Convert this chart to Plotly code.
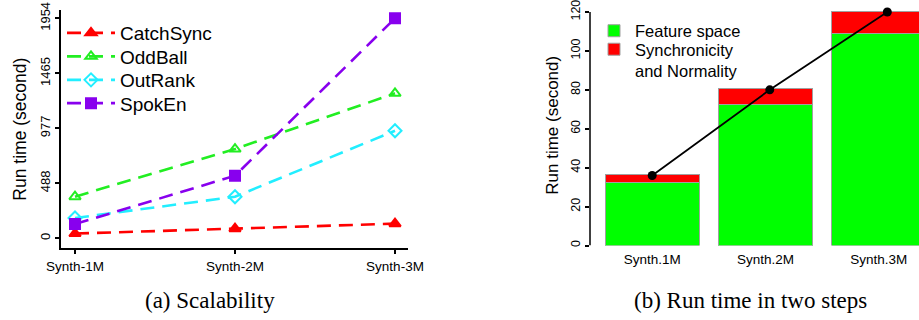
import plotly.graph_objects as go

# ---- data (a) scalability ----
datasets_a = ["Synth-1M", "Synth-2M", "Synth-3M"]
catchsync = [42, 85, 130]
oddball = [370, 793, 1288]
outrank = [180, 369, 955]
spoken = [126, 556, 1954]
yticks_a = [0, 488, 977, 1465, 1954]

# ---- data (b) run time in two steps ----
datasets_b = ["Synth.1M", "Synth.2M", "Synth.3M"]
feature_space = [32.5, 72.6, 108.9]
sync_normality = [4.1, 8.2, 11.6]
total_points = [36, 80, 120]
yticks_b = [0, 20, 40, 60, 80, 100, 120]

W, H = 919, 320
def px(x):
    return x / W
def py(y):
    return 1 - y / H

fig = go.Figure()

series = [
    ("CatchSync", catchsync, "#FF0000", "triangle-up", "legend"),
    ("OddBall", oddball, "#22EE22", "triangle-up-open", "legend3"),
    ("OutRank", outrank, "#22EEFF", "diamond-open", "legend4"),
    ("SpokEn", spoken, "#8800EE", "square", "legend5"),
]
for name, vals, col, sym, lg in series:
    fig.add_trace(go.Scatter(
        x=list(range(len(datasets_a))), y=vals, name=name, mode="lines+markers",
        line=dict(color=col, width=2.6, dash="14px,8px"),
        marker=dict(symbol=sym, size=10, color=col, line=dict(color=col, width=2)),
        xaxis="x", yaxis="y", legend=lg, cliponaxis=False,
    ))

# bars (b)
bar_x = [0.7 + 1.2 * i for i in range(len(datasets_b))]
fig.add_trace(go.Bar(
    x=bar_x, y=feature_space, name="Feature space", width=1,
    marker=dict(color="#00FF00", line=dict(color="#A0A0A0", width=1)),
    xaxis="x2", yaxis="y2", legend="legend2",
))
fig.add_trace(go.Bar(
    x=bar_x, y=sync_normality, name="Synchronicity<br>and Normality", width=1,
    marker=dict(color="#FF0000", line=dict(color="#A0A0A0", width=1)),
    xaxis="x2", yaxis="y2", legend="legend6",
))
fig.add_trace(go.Scatter(
    x=[1, 2, 3], y=total_points, mode="lines+markers", showlegend=False,
    line=dict(color="black", width=1.8),
    marker=dict(color="black", size=9),
    xaxis="x3", yaxis="y2", cliponaxis=False,
))

# left plot geometry
ax_left, ax_right = 60.7, 408
ay_top, ay_bot = 10, 248.3
y0_px, ymax_px = 238.3, 18.3
upp = 1954 / (y0_px - ymax_px)
yr_a = [-(ay_bot - y0_px) * upp, 1954 + (ymax_px - ay_top) * upp]
c0, c2 = 75, 395
ppc = (c2 - c0) / 2
xr_a = [-(c0 - ax_left) / ppc, 2 + (ax_right - c2) / ppc]

# right plot geometry
bx_left, bx_right = 590, 919
pu = 94.4
x_zero = 652.2 - 0.7 * pu
xr_b = [(bx_left - x_zero) / pu, (bx_right - x_zero) / pu]
by_bot = 245.5
ppu_b = (245.5 - 12) / 120
by_top = 5
yr_b = [0, (by_bot - by_top) / ppu_b]
lp1, lp3 = 652.2, 887.3
ppl = (lp3 - lp1) / 2
xr_l = [1 - (lp1 - bx_left) / ppl, 3 + (bx_right - lp3) / ppl]

tickfont = dict(family="Liberation Sans, Arial", size=13.5, color="black")

def lg_left(yc):
    return dict(x=px(62), y=py(yc), xanchor="left", yanchor="middle",
                font=dict(size=19, family="Liberation Sans, Arial", color="black"),
                itemwidth=48, bgcolor="rgba(0,0,0,0)", borderwidth=0)

def lg_right(yc):
    return dict(x=px(593), y=py(yc), xanchor="left", yanchor="middle",
                font=dict(size=16.5, family="Liberation Sans, Arial", color="black"),
                itemwidth=32, valign="top", bgcolor="rgba(0,0,0,0)", borderwidth=0)

fig.update_layout(
    template="none",
    width=W, height=H, margin=dict(l=0, r=0, t=0, b=0, pad=0),
    paper_bgcolor="white", plot_bgcolor="white",
    barmode="stack", showlegend=True,
    font=dict(family="Liberation Sans, Arial", color="black"),
    xaxis=dict(
        domain=[px(ax_left), px(ax_right)], anchor="y", range=xr_a, automargin=False,
        tickmode="array", tickvals=list(range(len(datasets_a))), ticktext=datasets_a,
        showline=True, linecolor="black", linewidth=2, ticks="outside", ticklen=4,
        tickwidth=2, tickcolor="black", showgrid=False, zeroline=False, tickfont=tickfont,
        ticklabeloverflow="allow",
    ),
    yaxis=dict(
        domain=[py(ay_bot), py(ay_top)], anchor="x", range=yr_a, automargin=False,
        tickmode="array", tickvals=yticks_a, ticktext=[str(v) for v in yticks_a],
        tickangle=-90, showline=True, linecolor="black", linewidth=2,
        ticks="outside", ticklen=4, tickwidth=2, tickcolor="black",
        showgrid=False, zeroline=False, ticklabeloverflow="allow",
        tickfont=dict(family="Liberation Sans, Arial", size=13, color="black"),
        title=dict(text="Run time (second)", font=dict(size=17.5, color="black"), standoff=6),
    ),
    xaxis2=dict(
        domain=[px(bx_left), px(bx_right)], anchor="y2", range=xr_b, automargin=False,
        tickmode="array", tickvals=bar_x, ticktext=datasets_b,
        showline=False, ticks="", showgrid=False, zeroline=False, tickfont=tickfont,
        ticklabelstandoff=4, ticklabeloverflow="allow",
    ),
    xaxis3=dict(
        domain=[px(bx_left), px(bx_right)], anchor="y2", overlaying="x2",
        range=xr_l, visible=False, automargin=False,
    ),
    yaxis2=dict(
        domain=[py(by_bot), py(by_top)], anchor="x2", range=yr_b, automargin=False,
        tickmode="array", tickvals=yticks_b, ticktext=[str(v) for v in yticks_b],
        tickangle=-90, showline=False, ticks="outside", ticklen=4, tickwidth=1.5,
        tickcolor="black", showgrid=False, zeroline=False,
        tickfont=dict(family="Liberation Sans, Arial", size=12.5, color="black"),
        ticklabeloverflow="allow",
        title=dict(text="Run time (second)", font=dict(size=17, color="black"), standoff=6),
    ),
    legend=lg_left(33),
    legend3=lg_left(56.5),
    legend4=lg_left(80),
    legend5=lg_left(103.3),
    legend2=lg_right(31),
    legend6=lg_right(60),
    shapes=[dict(
        type="line", xref="x2 domain", yref="y2", x0=0, x1=0, y0=0, y1=120,
        line=dict(color="black", width=1.5),
    )],
    annotations=[
        dict(text="(a) Scalability", x=px(210), y=py(300), xref="paper", yref="paper",
             xanchor="center", yanchor="middle", showarrow=False,
             font=dict(family="Liberation Serif, Times New Roman", size=23, color="black")),
        dict(text="(b) Run time in two steps", x=px(750), y=py(300), xref="paper", yref="paper",
             xanchor="center", yanchor="middle", showarrow=False,
             font=dict(family="Liberation Serif, Times New Roman", size=23, color="black")),
    ],
)

fig.write_html("out.html")
